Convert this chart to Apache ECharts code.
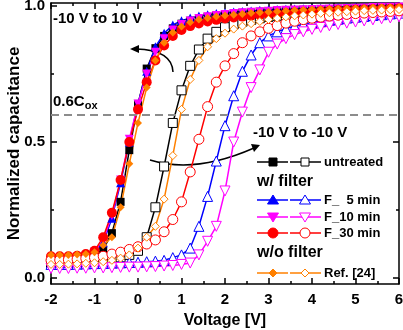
<!DOCTYPE html>
<html>
<head>
<meta charset="utf-8">
<script src="https://cdn.jsdelivr.net/npm/echarts@6/dist/echarts.min.js"></script>
<style>
  html, body { margin: 0; padding: 0; background: #fff; }
  #chart { width: 403px; height: 330px; }
</style>
</head>
<body>
<div id="chart"></div>
<script>
// gate voltage sweep points (V)
var volt = [-2.0, -1.8, -1.6, -1.4, -1.2, -1.0, -0.8, -0.6, -0.4, -0.2, 0.0, 0.2, 0.4, 0.6, 0.8, 1.0, 1.2, 1.4, 1.6, 1.8,
            2.0, 2.2, 2.4, 2.6, 2.8, 3.0, 3.2, 3.4, 3.6, 3.8, 4.0, 4.2, 4.4, 4.6, 4.8, 5.0, 5.2, 5.4, 5.6, 5.8, 6.0];

// filled = -10 V to 10 V sweep, open = 10 V back to -10 V
var untreatedFwd = [.070,.070,.071,.072,.075,.082,.105,.165,.280,.470,.640,.770,.845,.890,.918,.935,.946,.954,.960,.965,
                    .969,.972,.975,.977,.979,.981,.983,.984,.985,.986,.987,.988,.989,.990,.991,.992,.993,.994,.995,.996,.997];
var untreatedRev = [.055,.056,.057,.058,.060,.062,.065,.070,.076,.085,.100,.150,.260,.410,.570,.690,.780,.840,.880,.905,
                    .922,.933,.942,.949,.955,.960,.964,.967,.970,.972,.974,.976,.978,.980,.981,.983,.984,.985,.986,.987,.988];
var f5Fwd = [.065,.065,.066,.068,.075,.090,.130,.220,.350,.500,.640,.760,.850,.900,.930,.946,.956,.963,.968,.972,
             .975,.978,.980,.982,.984,.986,.987,.988,.989,.990,.991,.992,.993,.994,.995,.996,.996,.997,.998,.998,.999];
var f5Rev = [.050,.050,.050,.051,.052,.053,.054,.055,.056,.057,.058,.060,.062,.065,.075,.085,.110,.190,.300,.430,
             .560,.670,.760,.820,.865,.890,.905,.917,.926,.933,.939,.944,.948,.952,.956,.959,.962,.965,.968,.971,.974];
var f10Fwd = [.070,.070,.071,.073,.080,.095,.140,.230,.360,.510,.640,.750,.830,.880,.912,.932,.945,.954,.960,.965,
              .969,.972,.975,.977,.979,.981,.983,.984,.985,.986,.987,.988,.989,.990,.991,.992,.993,.994,.995,.995,.996];
var f10Rev = [.035,.035,.035,.036,.036,.037,.037,.038,.039,.040,.040,.041,.042,.044,.046,.050,.055,.085,.135,.190,
              .320,.500,.610,.700,.765,.830,.860,.880,.895,.905,.914,.921,.927,.932,.937,.941,.945,.949,.953,.956,.960];
var f30Fwd = [.080,.080,.080,.082,.088,.100,.150,.240,.360,.500,.620,.720,.800,.855,.890,.912,.926,.936,.943,.949,
              .954,.958,.961,.964,.967,.969,.971,.973,.975,.977,.979,.981,.982,.984,.985,.986,.987,.988,.989,.990,.991];
var f30Rev = [.065,.066,.067,.069,.072,.075,.080,.088,.095,.105,.115,.125,.140,.170,.215,.280,.390,.510,.630,.720,
              .780,.825,.865,.890,.905,.918,.928,.937,.944,.950,.955,.959,.963,.966,.969,.972,.974,.976,.978,.980,.982];
var refFwd = [.085,.085,.085,.086,.088,.095,.120,.150,.260,.420,.570,.700,.800,.865,.903,.925,.940,.950,.956,.961,
              .965,.968,.971,.974,.976,.978,.980,.982,.984,.985,.987,.988,.989,.990,.991,.992,.993,.994,.995,.995,.996];
var refRev = [.050,.050,.051,.052,.054,.056,.060,.065,.073,.085,.110,.150,.190,.290,.450,.620,.730,.800,.850,.880,
              .900,.915,.926,.935,.943,.950,.955,.960,.964,.967,.970,.973,.975,.977,.979,.981,.983,.984,.985,.986,.987];

var yMajor = [0, 0.5, 1.0];
var yMinor = [0.25, 0.75];
var cox = 0.6;

var FONT = '"Liberation Sans", Arial, Helvetica, sans-serif';

function pts(ys) {
    return volt.map(function (v, i) { return [v, ys[i]]; });
}

function curve(name, ys, color, symbol, size, filled, rotate) {
    return {
        name: name,
        type: 'line',
        data: pts(ys),
        symbol: symbol,
        symbolSize: size,
        symbolRotate: rotate || 0,
        showAllSymbol: true,
        lineStyle: { color: color, width: 1.5 },
        itemStyle: filled
            ? { color: color, borderWidth: 0 }
            : { color: '#fff', borderColor: color, borderWidth: 1 },
        emphasis: { disabled: true }
    };
}

var series = [
    curve('untreated', untreatedFwd, '#000000', 'rect', 8, true),
    curve('untreated rev', untreatedRev, '#000000', 'rect', 9, false),
    curve('F_5', f5Fwd, '#0000ff', 'triangle', 9, true),
    curve('F_5 rev', f5Rev, '#0000ff', 'triangle', 10, false),
    curve('F_10', f10Fwd, '#ff00ff', 'triangle', 9, true, 180),
    curve('F_10 rev', f10Rev, '#ff00ff', 'triangle', 10, false, 180),
    curve('F_30', f30Fwd, '#ff0000', 'circle', 10, true),
    curve('F_30 rev', f30Rev, '#ff0000', 'circle', 10, false),
    curve('Ref', refFwd, '#ff8000', 'diamond', 8, true),
    curve('Ref rev', refRev, '#ff8000', 'diamond', 8, false)
];

series[0].markLine = {
    silent: true,
    symbol: 'none',
    label: { show: false },
    lineStyle: { color: '#8c8c8c', type: [8, 5], width: 2 },
    data: [{ yAxis: cox }]
};

// legend drawn by hand: two samples (filled / open) per row
var legendRows = [
    { label: 'untreated', y: 162, color: '#000000', kind: 'rect' },
    { label: 'F_  5 min', y: 200, color: '#0000ff', kind: 'tri' },
    { label: 'F_10 min', y: 217, color: '#ff00ff', kind: 'inv' },
    { label: 'F_30 min', y: 233, color: '#ff0000', kind: 'circle' },
    { label: 'Ref. [24]', y: 273, color: '#ff8000', kind: 'diamond' }
];

function marker(kind, cx, cy, color, filled) {
    var style = filled ? { fill: color, stroke: color, lineWidth: 1 } : { fill: '#fff', stroke: color, lineWidth: 1 };
    if (kind === 'rect') return { type: 'rect', shape: { x: cx - 4, y: cy - 4, width: 8, height: 8 }, style: style };
    if (kind === 'circle') return { type: 'circle', shape: { cx: cx, cy: cy, r: 5 }, style: style };
    if (kind === 'tri') return { type: 'polygon', shape: { points: [[cx, cy - 5], [cx - 5.5, cy + 4], [cx + 5.5, cy + 4]] }, style: style };
    if (kind === 'inv') return { type: 'polygon', shape: { points: [[cx, cy + 5], [cx - 5.5, cy - 4], [cx + 5.5, cy - 4]] }, style: style };
    return { type: 'polygon', shape: { points: [[cx, cy - 4], [cx + 4, cy], [cx, cy + 4], [cx - 4, cy]] }, style: style };
}

var graphics = [];
legendRows.forEach(function (r) {
    graphics.push({ type: 'line', shape: { x1: 257, y1: r.y, x2: 288, y2: r.y }, style: { stroke: r.color, lineWidth: 1.5 } });
    graphics.push({ type: 'line', shape: { x1: 290, y1: r.y, x2: 321, y2: r.y }, style: { stroke: r.color, lineWidth: 1.5 } });
    graphics.push(marker(r.kind, 273, r.y, r.color, true));
    graphics.push(marker(r.kind, 305, r.y, r.color, false));
    graphics.push({ type: 'text', x: 324, y: r.y, style: { text: r.label, font: 'bold 13px ' + FONT, fill: '#000', verticalAlign: 'middle' } });
});
graphics.push({ type: 'text', x: 257, y: 182, style: { text: 'w/ filter', font: 'bold 16px ' + FONT, fill: '#000', verticalAlign: 'middle' } });
graphics.push({ type: 'text', x: 257, y: 253, style: { text: 'w/o filter', font: 'bold 16px ' + FONT, fill: '#000', verticalAlign: 'middle' } });

// annotations
graphics.push({ type: 'text', x: 53, y: 19, style: { text: '-10 V to 10 V', font: 'bold 15px ' + FONT, fill: '#000', verticalAlign: 'middle' } });
graphics.push({ type: 'text', x: 253, y: 133, style: { text: '-10 V to -10 V', font: 'bold 15px ' + FONT, fill: '#000', verticalAlign: 'middle' } });
graphics.push({
    type: 'text', x: 53, y: 102,
    style: {
        text: '{a|0.6C}{b|ox}', verticalAlign: 'middle', fill: '#000',
        rich: {
            a: { font: 'bold 15px ' + FONT, fill: '#000' },
            b: { font: 'bold 11px ' + FONT, fill: '#000', padding: [7, 0, 0, 0] }
        }
    }
});
// curved arrows
graphics.push({ type: 'bezierCurve', shape: { x1: 173, y1: 72, cpx1: 172, cpy1: 50, x2: 136, y2: 49 }, style: { stroke: '#000', lineWidth: 1.5, fill: null } });
graphics.push({ type: 'polygon', shape: { points: [[130, 49], [139, 45], [139, 53]] }, style: { fill: '#000' } });
graphics.push({ type: 'bezierCurve', shape: { x1: 150, y1: 160, cpx1: 195, cpy1: 174, x2: 254, y2: 148 }, style: { stroke: '#000', lineWidth: 1.5, fill: null } });
graphics.push({ type: 'polygon', shape: { points: [[260, 145], [251, 144], [254, 152]] }, style: { fill: '#000' } });

var chart = echarts.init(document.getElementById('chart'));

var xBase = {
    type: 'value', min: -2, max: 6, interval: 1,
    axisLine: { show: true, onZero: false, lineStyle: { color: '#000', width: 1.5 } },
    axisTick: { show: true, inside: true, length: 6, lineStyle: { color: '#000', width: 1.5 } },
    minorTick: { show: true, splitNumber: 2, length: 3, lineStyle: { color: '#000', width: 1.5 } },
    splitLine: { show: false }
};

function yAxisDef(pos, ticks, len, labels, line) {
    return {
        type: 'value', position: pos, min: -0.022, max: 1.011,
        axisLine: { show: line, onZero: false, lineStyle: { color: '#000', width: 1.5 } },
        axisTick: { show: true, inside: true, length: len, customValues: ticks, lineStyle: { color: '#000', width: 1.5 } },
        axisLabel: {
            show: labels, customValues: ticks, margin: 6,
            formatter: function (v) { return v.toFixed(1); },
            color: '#000', fontWeight: 'bold', fontSize: 15, fontFamily: FONT
        },
        splitLine: { show: false }
    };
}

var yLeft = yAxisDef('left', yMajor, 6, true, true);
yLeft.name = 'Normalized capacitance';
yLeft.nameLocation = 'middle';
yLeft.nameRotate = 90;
yLeft.nameGap = 28;
yLeft.nameMoveOverlap = false;
yLeft.nameTextStyle = { color: '#000', fontWeight: 'bold', fontSize: 17, fontFamily: FONT };

chart.setOption({
    animation: false,
    grid: { left: 51, right: 4, top: 3, bottom: 46, containLabel: false, outerBoundsMode: 'none' },
    xAxis: [
        Object.assign({}, xBase, {
            position: 'bottom',
            name: 'Voltage [V]', nameLocation: 'middle', nameGap: 29, nameMoveOverlap: false,
            nameTextStyle: { color: '#000', fontWeight: 'bold', fontSize: 16, fontFamily: FONT },
            axisLabel: { margin: 8, color: '#000', fontWeight: 'bold', fontSize: 15, fontFamily: FONT }
        }),
        Object.assign({}, xBase, { position: 'top', axisLabel: { show: false } })
    ],
    yAxis: [
        yLeft,
        yAxisDef('left', yMinor, 3, false, false),
        yAxisDef('right', yMajor, 6, false, true),
        yAxisDef('right', yMinor, 3, false, false)
    ],
    series: series,
    graphic: graphics
});
</script>
</body>
</html>
